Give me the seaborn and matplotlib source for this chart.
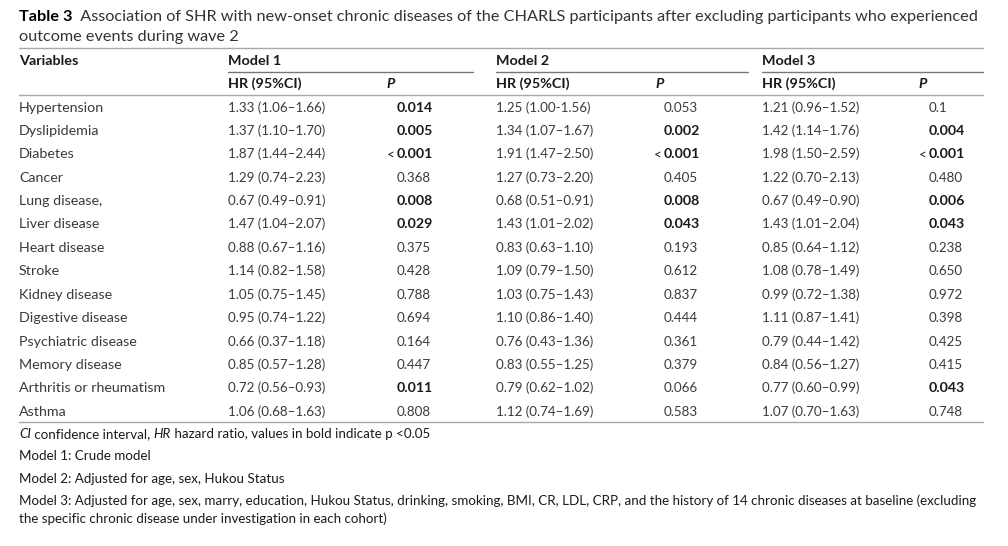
import matplotlib
matplotlib.use("Agg")
import matplotlib.pyplot as plt
import seaborn as sns

# 表のデータ
variables = ["Hypertension", "Dyslipidemia", "Diabetes", "Cancer", "Lung disease,",
             "Liver disease", "Heart disease", "Stroke", "Kidney disease",
             "Digestive disease", "Psychiatric disease", "Memory disease",
             "Arthritis or rheumatism", "Asthma"]
m1_hr = ["1.33 (1.06–1.66)", "1.37 (1.10–1.70)", "1.87 (1.44–2.44)", "1.29 (0.74–2.23)",
         "0.67 (0.49–0.91)", "1.47 (1.04–2.07)", "0.88 (0.67–1.16)", "1.14 (0.82–1.58)",
         "1.05 (0.75–1.45)", "0.95 (0.74–1.22)", "0.66 (0.37–1.18)", "0.85 (0.57–1.28)",
         "0.72 (0.56–0.93)", "1.06 (0.68–1.63)"]
m1_p = ["0.014", "0.005", "<0.001", "0.368", "0.008", "0.029", "0.375", "0.428",
        "0.788", "0.694", "0.164", "0.447", "0.011", "0.808"]
m2_hr = ["1.25 (1.00-1.56)", "1.34 (1.07–1.67)", "1.91 (1.47–2.50)", "1.27 (0.73–2.20)",
         "0.68 (0.51–0.91)", "1.43 (1.01–2.02)", "0.83 (0.63–1.10)", "1.09 (0.79–1.50)",
         "1.03 (0.75–1.43)", "1.10 (0.86–1.40)", "0.76 (0.43–1.36)", "0.83 (0.55–1.25)",
         "0.79 (0.62–1.02)", "1.12 (0.74–1.69)"]
m2_p = ["0.053", "0.002", "<0.001", "0.405", "0.008", "0.043", "0.193", "0.612",
        "0.837", "0.444", "0.361", "0.379", "0.066", "0.583"]
m3_hr = ["1.21 (0.96–1.52)", "1.42 (1.14–1.76)", "1.98 (1.50–2.59)", "1.22 (0.70–2.13)",
         "0.67 (0.49–0.90)", "1.43 (1.01–2.04)", "0.85 (0.64–1.12)", "1.08 (0.78–1.49)",
         "0.99 (0.72–1.38)", "1.11 (0.87–1.41)", "0.79 (0.44–1.42)", "0.84 (0.56–1.27)",
         "0.77 (0.60–0.99)", "1.07 (0.70–1.63)"]
m3_p = ["0.1", "0.004", "<0.001", "0.480", "0.006", "0.043", "0.238", "0.650",
        "0.972", "0.398", "0.425", "0.415", "0.043", "0.748"]
models = ["Model 1", "Model 2", "Model 3"]

title_bold = "Table 3"
title_rest = ("Association of SHR with new-onset chronic diseases of the CHARLS participants "
              "after excluding participants who experienced")
title_line2 = "outcome events during wave 2"
notes = ["Model 1: Crude model",
         "Model 2: Adjusted for age, sex, Hukou Status",
         "Model 3: Adjusted for age, sex, marry, education, Hukou Status, drinking, smoking, "
         "BMI, CR, LDL, CRP, and the history of 14 chronic diseases at baseline (excluding",
         "the specific chronic disease under investigation in each cohort)"]

sns.set_style("white")
plt.rcParams["font.family"] = ["Lato", "DejaVu Sans"]

fig = plt.figure(figsize=(10.08, 5.46), dpi=100)
ax = fig.add_axes([0, 0, 1, 1])
ax.set_xlim(0, 1008)
ax.set_ylim(546, 0)
ax.axis("off")

FS = 9.6      # 数値
FS_VAR = 10.3 # 変数名
FS_HEAD = 10.4
FS_NOTE = 9.68
FS_TITLE = 11.72
BODY = "#3a3a3a"
DARK = "#1a1a1a"
LINE = "#a8a8a8"


def pieces(x, y, parts, fs):
    # 太字・斜体を混ぜた一行を左から順に並べる
    prev = None
    for s, kw in parts:
        if prev is None:
            prev = ax.text(x, y, s, fontsize=fs, va="baseline", ha="left", **kw)
        else:
            prev = ax.annotate(s, xy=(1, 0), xycoords=prev, va="bottom", ha="left",
                               fontsize=fs, **kw)


# タイトル
pieces(19, 21, [(title_bold, dict(fontweight="bold", color="black")),
                ("  " + title_rest, dict(color="#333333"))], FS_TITLE)
ax.text(19, 41, title_line2, fontsize=FS_TITLE, color="#333333", va="baseline")

# 罫線
ax.plot([19, 983], [48, 48], color=LINE, lw=1)
model_x = [228, 496, 762]
hr_x = model_x
p_x = [397, 664, 929]
ph_x = [386, 655, 918]
for x0, x1 in zip(model_x, [473, 748, 983]):
    ax.plot([x0, x1], [71.5, 71.5], color="#777777", lw=1)
ax.plot([19, 983], [94.5, 94.5], color=LINE, lw=1)
ax.plot([19, 983], [421.5, 421.5], color=LINE, lw=1)

# 見出し
ax.text(19, 65, "Variables", fontsize=FS_HEAD, fontweight="bold", color=DARK, va="baseline")
for i, m in enumerate(models):
    ax.text(model_x[i], 65, m, fontsize=FS_HEAD, fontweight="bold", color=DARK, va="baseline")
    ax.text(hr_x[i], 88, "HR (95%CI)", fontsize=FS_HEAD, fontweight="bold", color=DARK,
            va="baseline")
    ax.text(ph_x[i], 88, "P", fontsize=FS_HEAD, fontweight="bold", fontstyle="italic",
            color=DARK, va="baseline")

# 本体
row_y0 = 111.5
row_h = 23.4
cols = [(m1_hr, m1_p), (m2_hr, m2_p), (m3_hr, m3_p)]
for r, var in enumerate(variables):
    y = row_y0 + r * row_h
    ax.text(19, y, var, fontsize=FS_VAR, color=BODY, va="baseline")
    for i, (hr, pv) in enumerate(cols):
        ax.text(hr_x[i], y, hr[r], fontsize=FS, color=BODY, va="baseline")
        p = pv[r]
        sig = p.startswith("<") or float(p) < 0.05
        if p.startswith("<"):
            ax.text(p_x[i] - 2.5, y, "<", fontsize=FS, color=DARK, va="baseline", ha="right")
            p = p[1:]
        ax.text(p_x[i], y, p, fontsize=10.2 if sig else FS, va="baseline",
                fontweight="bold" if sig else "normal", color=DARK if sig else BODY)

# 注釈
pieces(19, 438, [("CI", dict(fontstyle="italic", color=DARK)),
                 (" confidence interval, ", dict(color=DARK)),
                 ("HR", dict(fontstyle="italic", color=DARK)),
                 (" hazard ratio, values in bold indicate p <0.05", dict(color=DARK))], FS_NOTE)
for y, s in zip([460, 483, 505, 523], notes):
    ax.text(19, y, s, fontsize=FS_NOTE, color=DARK, va="baseline")

plt.savefig("out.png", dpi=100, facecolor="white")
